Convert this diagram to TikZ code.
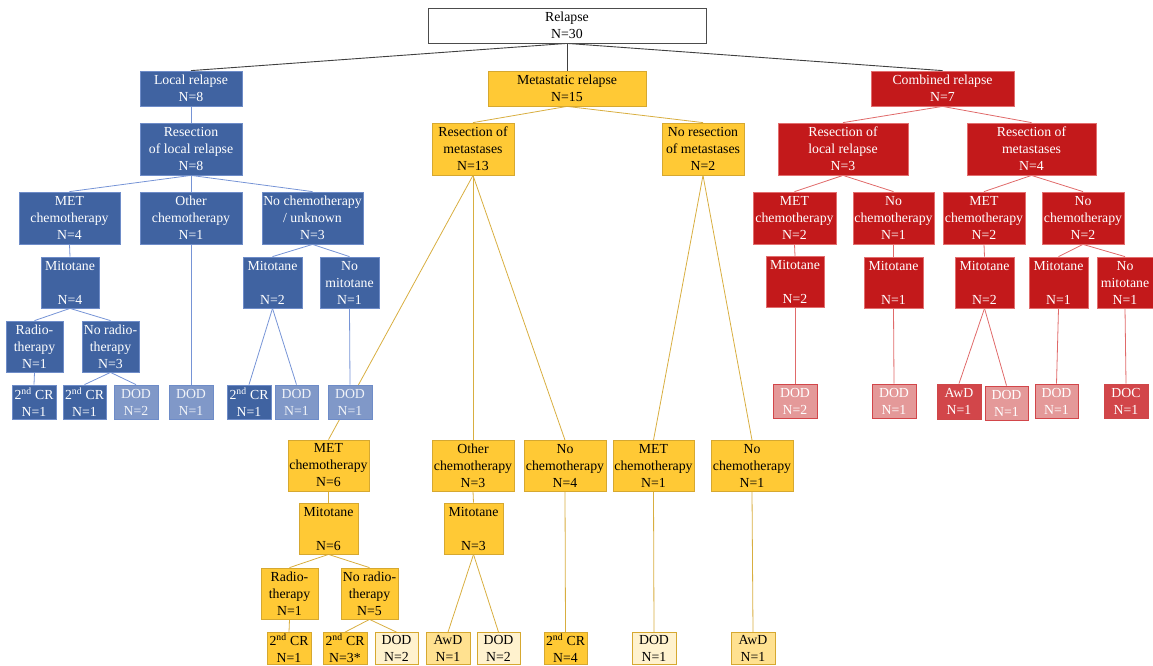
\documentclass[tikz,border=0pt]{standalone}
\usepackage{fontspec}
\setmainfont{Liberation Serif}
\usepackage{xcolor}
\usepackage{tikz}
\usetikzlibrary{backgrounds}

\definecolor{blueA}{RGB}{64,99,161}
\definecolor{blueB}{RGB}{110,140,200}
\definecolor{blueL}{RGB}{128,152,200}
\definecolor{blueE}{RGB}{118,148,214}
\definecolor{yelA}{RGB}{255,201,53}
\definecolor{yelB}{RGB}{214,168,48}
\definecolor{yelL}{RGB}{255,225,144}
\definecolor{yelLL}{RGB}{255,242,206}
\definecolor{yelE}{RGB}{216,174,64}
\definecolor{redA}{RGB}{195,25,27}
\definecolor{redB}{RGB}{226,110,110}
\definecolor{redM}{RGB}{210,70,74}
\definecolor{redL}{RGB}{228,153,153}
\definecolor{redE}{RGB}{224,106,106}

\newcommand{\boxfont}{\fontsize{13.8}{17}\selectfont}
\newcommand{\nd}{\textsuperscript{nd}}

\begin{document}
\begin{tikzpicture}[x=1pt, y=-1pt,
    box/.style={draw, line width=0.8pt, inner sep=0pt, align=center, font=\boxfont},
    sz/.style 2 args={minimum width=#1pt, minimum height=#2pt},
    wbox/.style={box, fill=white, draw=black!70},
    bbox/.style={box, fill=blueA, draw=blueB, text=white},
    bdod/.style={box, fill=blueL, draw=blueB, text=white!92!blueA},
    ybox/.style={box, fill=yelA, draw=yelB},
    yawd/.style={box, fill=yelL, draw=yelB},
    ydod/.style={box, fill=yelLL, draw=yelB},
    rbox/.style={box, fill=redA, draw=redB, text=white},
    rmid/.style={box, fill=redM, draw=redA!80, text=white},
    rdod/.style={box, fill=redL, draw=redM, text=white},
    kl/.style={draw=black!75, line width=0.9pt},
    bl/.style={draw=blueE, line width=0.8pt},
    yl/.style={draw=yelE, line width=0.8pt},
    rl/.style={draw=redE, line width=0.8pt}]
    \clip (0,0) rectangle (1153,665);

    % Root
    \node[wbox, sz={278}{35}] (root) at (567,25.5) {Relapse\\N=30};

    % Local relapse
    \node[bbox, sz={102}{35}] (loc) at (191,88.5) {Local relapse\\N=8};
    \node[bbox, sz={102}{52}] (locres) at (191,149) {Resection\\of local relapse\\N=8};
    \node[bbox, sz={101}{52}] (lmet) at (69.5,218) {MET\\chemotherapy\\N=4};
    \node[bbox, sz={102}{52}] (loth) at (191,218) {Other\\chemotherapy\\N=1};
    \node[bbox, sz={101}{52}] (lnoc) at (312.5,218) {No chemotherapy\\/ unknown\\N=3};
    \node[bbox, sz={58}{51}] (lmit) at (70,282.5) {Mitotane\\[17pt]N=4};
    \node[bbox, sz={57}{51}] (lrad) at (34.5,346.5) {Radio-\\therapy\\N=1};
    \node[bbox, sz={57}{51}] (lnorad) at (110.5,346.5) {No radio-\\therapy\\N=3};
    \node[bbox, sz={44}{34}] (lcrA) at (34,402) {2\nd{} CR\\N=1};
    \node[bbox, sz={43}{34}] (lcrB) at (84.5,402) {2\nd{} CR\\N=1};
    \node[bdod, sz={44}{34}] (ldodA) at (136,402) {DOD\\N=2};
    \node[bdod, sz={44}{34}] (ldodB) at (191,402) {DOD\\N=1};
    \node[bbox, sz={59}{51}] (lmitB) at (272.5,282.5) {Mitotane\\[17pt]N=2};
    \node[bbox, sz={59}{51}] (lnomit) at (349.5,282.5) {No\\mitotane\\N=1};
    \node[bbox, sz={44}{34}] (lcrC) at (249,402) {2\nd{} CR\\N=1};
    \node[bdod, sz={43}{34}] (ldodC) at (296.5,402) {DOD\\N=1};
    \node[bdod, sz={44}{34}] (ldodD) at (350,402) {DOD\\N=1};

    % Metastatic relapse
    \node[ybox, sz={158}{35}] (met) at (567,88.5) {Metastatic relapse\\N=15};
    \node[ybox, sz={82}{52}] (mres) at (473,149) {Resection of\\metastases\\N=13};
    \node[ybox, sz={82}{52}] (mnores) at (703,149) {No resection\\of metastases\\N=2};
    \node[ybox, sz={81}{51}] (mmet) at (328.5,465.5) {MET\\chemotherapy\\N=6};
    \node[ybox, sz={82}{51}] (moth) at (473,465.5) {Other\\chemotherapy\\N=3};
    \node[ybox, sz={82}{51}] (mnoc) at (565,466) {No\\chemotherapy\\N=4};
    \node[ybox, sz={81}{51}] (mmetB) at (653.5,466) {MET\\chemotherapy\\N=1};
    \node[ybox, sz={82}{51}] (mnocB) at (752,466) {No\\chemotherapy\\N=1};
    \node[ybox, sz={59}{51}] (mmit) at (328.5,528.5) {Mitotane\\[17pt]N=6};
    \node[ybox, sz={59}{51}] (mmitB) at (473.5,528.5) {Mitotane\\[17pt]N=3};
    \node[ybox, sz={57}{51}] (mrad) at (289.5,593.5) {Radio-\\therapy\\N=1};
    \node[ybox, sz={57}{51}] (mnorad) at (369.5,593.5) {No radio-\\therapy\\N=5};
    \node[ybox, sz={44}{32}] (mcrA) at (289,648.5) {2\nd{} CR\\N=1};
    \node[ybox, sz={44}{32}] (mcrB) at (345,648.5) {2\nd{} CR\\N=3*};
    \node[ydod, sz={43}{32}] (mdodA) at (396.5,648.5) {DOD\\N=2};
    \node[yawd, sz={44}{32}] (mawdA) at (448,648.5) {AwD\\N=1};
    \node[ydod, sz={43}{32}] (mdodB) at (498.5,648.5) {DOD\\N=2};
    \node[ybox, sz={43}{32}] (mcrC) at (565.5,648.5) {2\nd{} CR\\N=4};
    \node[ydod, sz={44}{32}] (mdodC) at (654,648.5) {DOD\\N=1};
    \node[yawd, sz={44}{32}] (mawdB) at (753,648.5) {AwD\\N=1};

    % Combined relapse
    \node[rbox, sz={143}{35}] (comb) at (942.5,88.5) {Combined relapse\\N=7};
    \node[rbox, sz={130}{52}] (cresL) at (843,149) {Resection of\\local relapse\\N=3};
    \node[rbox, sz={129}{52}] (cresM) at (1031.5,149) {Resection of\\metastases\\N=4};
    \node[rbox, sz={83}{52}] (cmetA) at (794.5,218) {MET\\chemotherapy\\N=2};
    \node[rbox, sz={81}{52}] (cnocA) at (893.5,218) {No\\chemotherapy\\N=1};
    \node[rbox, sz={82}{52}] (cmetB) at (984,218) {MET\\chemotherapy\\N=2};
    \node[rbox, sz={82}{52}] (cnocB) at (1083,218) {No\\chemotherapy\\N=2};
    \node[rbox, sz={58}{51}] (cmitA) at (795,282) {Mitotane\\[17pt]N=2};
    \node[rbox, sz={59}{51}] (cmitB) at (893.5,282.5) {Mitotane\\[17pt]N=1};
    \node[rbox, sz={59}{51}] (cmitC) at (984.5,282.5) {Mitotane\\[17pt]N=2};
    \node[rbox, sz={59}{51}] (cmitD) at (1058.5,282.5) {Mitotane\\[17pt]N=1};
    \node[rbox, sz={56}{51}] (cnomit) at (1125,282.5) {No\\mitotane\\N=1};
    \node[rdod, sz={44}{34}] (cdodA) at (795,401) {DOD\\N=2};
    \node[rdod, sz={44}{34}] (cdodB) at (894,401) {DOD\\N=1};
    \node[rmid, sz={44}{35}] (cawd) at (959,401.5) {AwD\\N=1};
    \node[rdod, sz={43}{34}] (cdodC) at (1006.5,403) {DOD\\N=1};
    \node[rdod, sz={43}{34}] (cdodD) at (1056.5,401) {DOD\\N=1};
    \node[rmid, sz={44}{34}] (cdoc) at (1126,401) {DOC\\N=1};

    % Connectors
    \begin{pgfonlayer}{background}
    \foreach \c in {loc,met,comb} \draw[kl] (root.south) -- (\c.north);

    \draw[bl] (loc.south) -- (locres.north);
    \foreach \c in {lmet,loth,lnoc} \draw[bl] (locres.south) -- (\c.north);
    \draw[bl] (lmet.south) -- (lmit.north);
    \foreach \c in {lrad,lnorad} \draw[bl] (lmit.south) -- (\c.north);
    \draw[bl] (lrad.south) -- (lcrA.north);
    \foreach \c in {lcrB,ldodA} \draw[bl] (lnorad.south) -- (\c.north);
    \draw[bl] (loth.south) -- (ldodB.north);
    \foreach \c in {lmitB,lnomit} \draw[bl] (lnoc.south) -- (\c.north);
    \foreach \c in {lcrC,ldodC} \draw[bl] (lmitB.south) -- (\c.north);
    \draw[bl] (lnomit.south) -- (ldodD.north);

    \foreach \c in {mres,mnores} \draw[yl] (met.south) -- (\c.north);
    \foreach \c in {mmet,moth,mnoc} \draw[yl] (mres.south) -- (\c.north);
    \foreach \c in {mmetB,mnocB} \draw[yl] (mnores.south) -- (\c.north);
    \draw[yl] (mmet.south) -- (mmit.north);
    \foreach \c in {mrad,mnorad} \draw[yl] (mmit.south) -- (\c.north);
    \draw[yl] (mrad.south) -- (mcrA.north);
    \foreach \c in {mcrB,mdodA} \draw[yl] (mnorad.south) -- (\c.north);
    \draw[yl] (moth.south) -- (mmitB.north);
    \foreach \c in {mawdA,mdodB} \draw[yl] (mmitB.south) -- (\c.north);
    \draw[yl] (mnoc.south) -- (mcrC.north);
    \draw[yl] (mmetB.south) -- (mdodC.north);
    \draw[yl] (mnocB.south) -- (mawdB.north);

    \foreach \c in {cresL,cresM} \draw[rl] (comb.south) -- (\c.north);
    \foreach \c in {cmetA,cnocA} \draw[rl] (cresL.south) -- (\c.north);
    \foreach \c in {cmetB,cnocB} \draw[rl] (cresM.south) -- (\c.north);
    \draw[rl] (cmetA.south) -- (cmitA.north);
    \draw[rl] (cmitA.south) -- (cdodA.north);
    \draw[rl] (cnocA.south) -- (cmitB.north);
    \draw[rl] (cmitB.south) -- (cdodB.north);
    \draw[rl] (cmetB.south) -- (cmitC.north);
    \foreach \c in {cawd,cdodC} \draw[rl] (cmitC.south) -- (\c.north);
    \foreach \c in {cmitD,cnomit} \draw[rl] (cnocB.south) -- (\c.north);
    \draw[rl] (cmitD.south) -- (cdodD.north);
    \draw[rl] (cnomit.south) -- (cdoc.north);
    \end{pgfonlayer}
\end{tikzpicture}
\end{document}
